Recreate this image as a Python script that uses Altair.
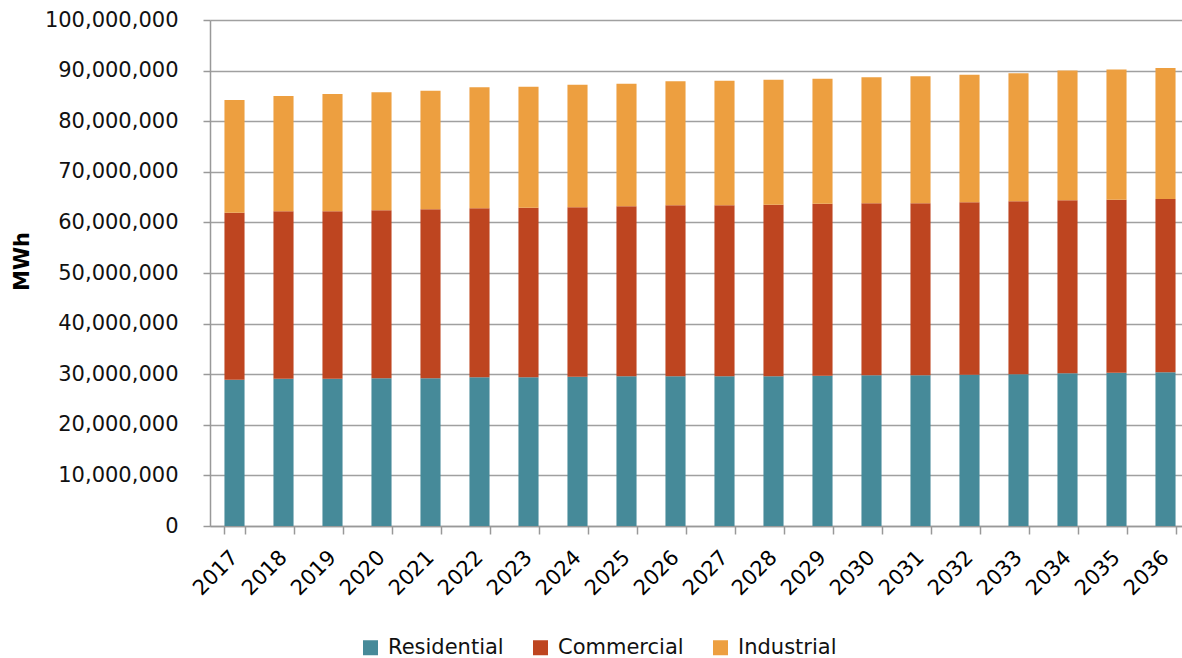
import altair as alt
import pandas as pd

years = [str(y) for y in range(2017, 2037)]
residential = [28.9, 29.1, 29.1, 29.2, 29.2, 29.4, 29.4, 29.5, 29.6, 29.6,
               29.6, 29.6, 29.7, 29.8, 29.8, 29.9, 30.0, 30.2, 30.3, 30.4]
res_com_top = [61.9, 62.2, 62.2, 62.4, 62.6, 62.8, 62.9, 63.0, 63.2, 63.4,
               63.4, 63.5, 63.7, 63.8, 63.8, 64.0, 64.2, 64.4, 64.5, 64.6]
totals = [84.2, 85.0, 85.4, 85.7, 86.0, 86.7, 86.8, 87.2, 87.4, 87.9,
          88.0, 88.2, 88.4, 88.7, 88.9, 89.2, 89.5, 90.0, 90.2, 90.5]

series = ["Residential", "Commercial", "Industrial"]
colors = ["#468A99", "#BE4520", "#ED9F40"]

rows = []
for i, y in enumerate(years):
    r = residential[i]
    c = res_com_top[i] - residential[i]
    ind = totals[i] - res_com_top[i]
    for k, (s, v) in enumerate(zip(series, [r, c, ind])):
        rows.append({"Year": y, "Sector": s, "MWh": v * 1_000_000, "order": k})
df = pd.DataFrame(rows)

FONT = "DejaVu Sans"

chart = alt.Chart(df).mark_bar().encode(
    x=alt.X("Year:N", sort=years,
            scale=alt.Scale(paddingInner=0.59, paddingOuter=0.295, range=[0, 980]),
            axis=alt.Axis(title=None, labelAngle=315, labelAlign="right", labelBaseline="middle",
                          labelFont=FONT, labelFontSize=21, labelColor="#000000",
                          labelPadding=20, tickSize=8, tickBand="extent",
                          tickColor="#999999", tickWidth=1.5,
                          domainColor="#999999", domainWidth=1.5, grid=False)),
    y=alt.Y("MWh:Q", stack="zero",
            scale=alt.Scale(domain=[0, 100_000_000], nice=False),
            axis=alt.Axis(title="MWh", values=list(range(0, 100_000_001, 10_000_000)),
                          format=",d", labelFont=FONT, labelFontSize=21, labelColor="#111111",
                          labelPadding=25, tickSize=7, tickColor="#999999", tickWidth=1.5,
                          domainColor="#999999", domainWidth=1.5,
                          grid=True, gridColor="#A0A0A0", gridWidth=1.5,
                          titleFont=FONT, titleFontSize=21, titleFontWeight="bold",
                          titleColor="#000000", titleX=-188, titleY=241,
                          titleAlign="center", titleBaseline="middle", titleAngle=270)),
    color=alt.Color("Sector:N", scale=alt.Scale(domain=series, range=colors),
                    legend=alt.Legend(title=None, orient="none", legendX=150, legendY=617,
                                      direction="horizontal", symbolType="square",
                                      symbolSize=225, symbolStrokeWidth=0,
                                      labelFont=FONT, labelFontSize=21, labelColor="#111111",
                                      labelOffset=7, columnPadding=26)),
    order=alt.Order("order:Q", sort="ascending"),
).properties(
    width=972, height=506,
    autosize=alt.AutoSizeParams(type="none"),
    padding={"left": 210, "top": 20, "right": 0, "bottom": 132},
).configure_view(stroke=None)

chart.save("out.html", embed_options={"renderer": "svg", "actions": False})
